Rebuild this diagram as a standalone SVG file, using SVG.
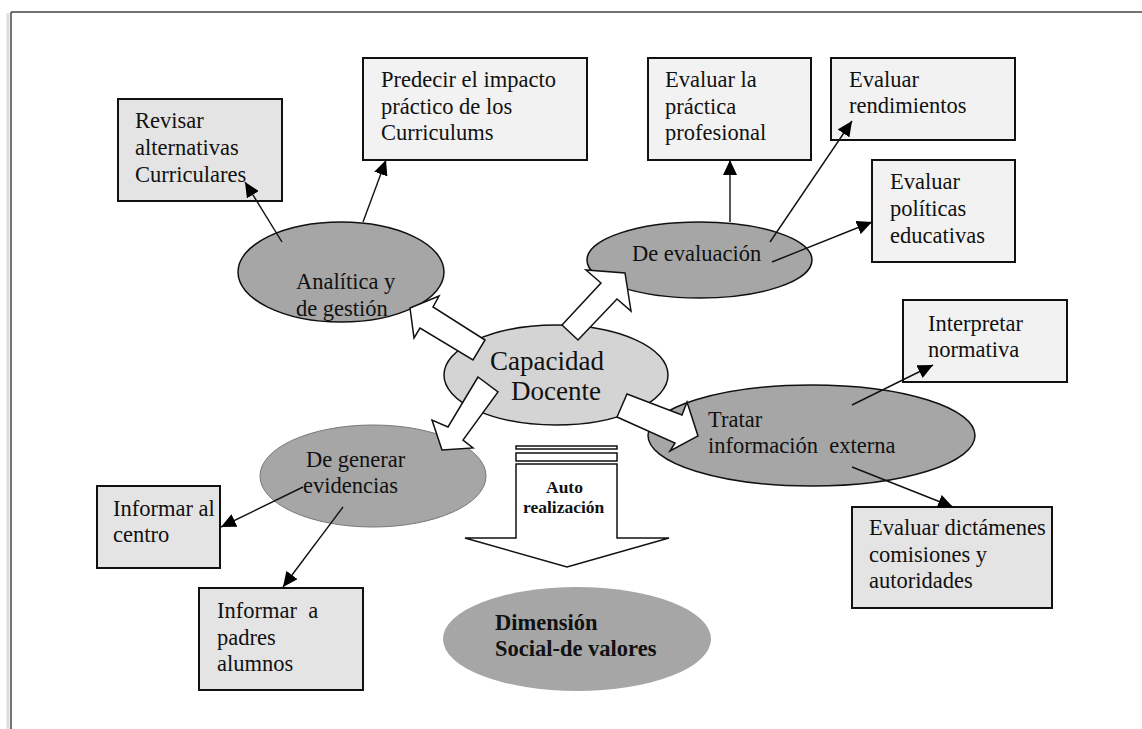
<svg xmlns="http://www.w3.org/2000/svg" width="1142" height="729" viewBox="0 0 1142 729">
  <defs>
    <marker id="tri" markerUnits="userSpaceOnUse" markerWidth="16" markerHeight="14" refX="15" refY="7" orient="auto">
      <path d="M0,0 L15,7 L0,14 Z" fill="#000"/>
    </marker>
  </defs>
  <style>
    text { font-family: "Liberation Serif", "Times New Roman", serif; fill: #111; }
    .t { font-size: 22.5px; }
    .big { font-size: 27px; }
    .b { font-weight: bold; }
    .box { stroke: #111; stroke-width: 2; }
    .pale { fill: #f2f2f2; }
    .mid { fill: #e4e4e4; }
    .oval { fill: #a6a6a6; stroke: #111; stroke-width: 1.5; }
    .block { fill: #fff; stroke: #111; stroke-width: 1.5; stroke-linejoin: miter; }
    .link { stroke: #111; stroke-width: 1.4; fill: none; marker-end: url(#tri); }
  </style>

  <rect width="1142" height="729" fill="#fff"/>
  <!-- page frame -->
  <g id="frame">
    <line x1="8" y1="13" x2="8" y2="729" stroke="#ddd" stroke-width="3"/>
    <line x1="11" y1="12" x2="1142" y2="12" stroke="#444" stroke-width="1.5"/>
    <line x1="11" y1="12" x2="11" y2="729" stroke="#444" stroke-width="1.5"/>
  </g>

  <!-- ellipses -->
  <g id="analitica">
    <ellipse class="oval" cx="341" cy="272" rx="103" ry="50"/>
    <text class="t" x="296" y="289">Analítica y</text>
    <text class="t" x="296" y="316">de gestión</text>
  </g>
  <g id="evaluacion">
    <ellipse class="oval" cx="699.5" cy="260" rx="112.5" ry="38"/>
    <text class="t" x="632" y="261">De evaluación</text>
  </g>
  <g id="evidencias">
    <ellipse cx="373" cy="476" rx="113" ry="51" fill="#a6a6a6" stroke="#777" stroke-width="1"/>
    <text class="t" x="306" y="467">De generar</text>
    <text class="t" x="303" y="493">evidencias</text>
  </g>
  <g id="externa">
    <ellipse class="oval" cx="811.5" cy="435.5" rx="163.5" ry="50.5"/>
    <text class="t" x="708" y="427">Tratar</text>
    <text class="t" x="708" y="453" xml:space="preserve">información  externa</text>
  </g>
  <g id="dimension">
    <ellipse cx="577" cy="639" rx="134" ry="52" fill="#a6a6a6"/>
    <text class="t b" x="495" y="630">Dimensión</text>
    <text class="t b" x="495" y="656">Social-de valores</text>
  </g>
  <g id="capacidad">
    <ellipse cx="556" cy="375" rx="112" ry="50" fill="#d4d4d4" stroke="#111" stroke-width="1.5"/>
    <text class="big" x="490" y="370">Capacidad</text>
    <text class="big" x="511" y="400">Docente</text>
  </g>

  <!-- block arrows out of the centre, drawn over the ovals -->
  <g id="block-arrows">
    <polygon class="block" points="485,340 433,307 439,296 410,308 414,338 420,328 473,360"/>
    <polygon class="block" points="562,325 601,283 586,270 625,273 631,311 617,299 578,340"/>
    <polygon class="block" points="478,377 448,427 432,420 442,450 473,448 463,440 498,392"/>
    <polygon class="block" points="627,394 682,415 687,402 698,436 670,451 675,443 617,417"/>
  </g>

  <!-- downward block arrow -->
  <g id="autorrealizacion">
    <rect class="block" x="516" y="446" width="101" height="3"/>
    <rect class="block" x="516" y="453" width="101" height="8"/>
    <polygon class="block" points="516,464 617,464 617,538 669,538 567,567 465,538 516,538"/>
    <text class="b" x="546" y="493" font-size="17.5">Auto</text>
    <text class="b" x="523" y="513" font-size="17.5">realización</text>
  </g>

  <!-- rectangles -->
  <g id="revisar">
    <rect class="box mid" x="118" y="99" width="164" height="102"/>
    <text class="t" x="135" y="128">Revisar</text>
    <text class="t" x="135" y="155">alternativas</text>
    <text class="t" x="135" y="182">Curriculares</text>
  </g>
  <g id="predecir">
    <rect class="box pale" x="363" y="58" width="224" height="102"/>
    <text class="t" x="381" y="87">Predecir el impacto</text>
    <text class="t" x="381" y="114">práctico de los</text>
    <text class="t" x="381" y="140">Curriculums</text>
  </g>
  <g id="practica">
    <rect class="box pale" x="648" y="58" width="163" height="102"/>
    <text class="t" x="665" y="87">Evaluar la</text>
    <text class="t" x="665" y="114">práctica</text>
    <text class="t" x="665" y="140">profesional</text>
  </g>
  <g id="rendimientos">
    <rect class="box pale" x="831" y="58" width="184" height="82"/>
    <text class="t" x="849" y="87">Evaluar</text>
    <text class="t" x="849" y="113">rendimientos</text>
  </g>
  <g id="politicas">
    <rect class="box pale" x="872" y="160" width="143" height="102"/>
    <text class="t" x="890" y="189">Evaluar</text>
    <text class="t" x="890" y="216">políticas</text>
    <text class="t" x="890" y="243">educativas</text>
  </g>
  <g id="normativa">
    <rect class="box pale" x="903" y="300" width="164" height="82"/>
    <text class="t" x="928" y="331">Interpretar</text>
    <text class="t" x="928" y="357">normativa</text>
  </g>
  <g id="dictamenes">
    <rect class="box mid" x="852" y="507" width="200" height="101"/>
    <text class="t" x="869" y="535">Evaluar dictámenes</text>
    <text class="t" x="869" y="562">comisiones y</text>
    <text class="t" x="869" y="588">autoridades</text>
  </g>
  <g id="centro">
    <rect class="box mid" x="97" y="486" width="123" height="82"/>
    <text class="t" x="113" y="516">Informar al</text>
    <text class="t" x="113" y="542">centro</text>
  </g>
  <g id="padres">
    <rect class="box mid" x="199" y="588" width="164" height="102"/>
    <text class="t" x="217" y="618" xml:space="preserve">Informar  a</text>
    <text class="t" x="217" y="645">padres</text>
    <text class="t" x="217" y="671">alumnos</text>
  </g>

  <!-- connectors -->
  <g id="connectors">
    <line class="link" x1="282" y1="242" x2="245" y2="182"/>
    <line class="link" x1="363" y1="222" x2="386" y2="160"/>
    <line class="link" x1="730" y1="222" x2="730" y2="160"/>
    <line class="link" x1="770" y1="242" x2="852" y2="121"/>
    <line class="link" x1="772" y1="262" x2="872" y2="222"/>
    <line class="link" x1="852" y1="405" x2="933" y2="365"/>
    <line class="link" x1="852" y1="467" x2="953" y2="507"/>
    <line class="link" x1="303" y1="487" x2="221" y2="527"/>
    <line class="link" x1="343" y1="507" x2="283" y2="587"/>
  </g>
</svg>
